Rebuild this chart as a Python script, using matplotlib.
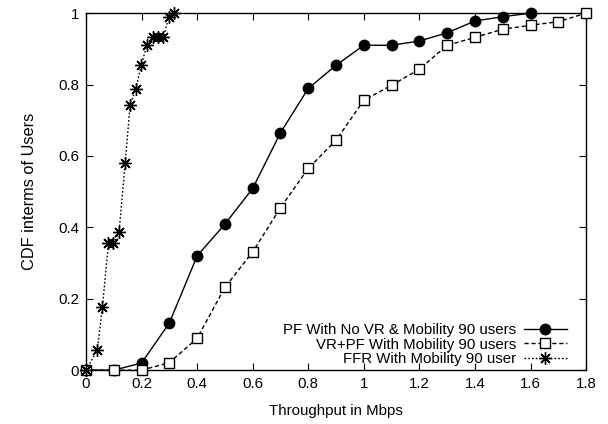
import matplotlib
matplotlib.use("Agg")
import matplotlib.pyplot as plt

plt.rcParams['font.family'] = ['Liberation Sans', 'DejaVu Sans']

pf_x = [0, 0.1, 0.2, 0.3, 0.4, 0.5, 0.6, 0.7, 0.8, 0.9, 1.0, 1.1, 1.2, 1.3, 1.4, 1.5, 1.6]
pf_y = [0, 0, 0.020, 0.132, 0.320, 0.409, 0.509, 0.665, 0.789, 0.854, 0.910, 0.910, 0.922, 0.945, 0.978, 0.990, 1.0]

vr_x = [0, 0.1, 0.2, 0.3, 0.4, 0.5, 0.6, 0.7, 0.8, 0.9, 1.0, 1.1, 1.2, 1.3, 1.4, 1.5, 1.6, 1.7, 1.8]
vr_y = [0, 0, 0, 0.021, 0.089, 0.232, 0.331, 0.455, 0.565, 0.644, 0.756, 0.798, 0.843, 0.910, 0.932, 0.955, 0.966, 0.976, 1.0]

ffr_x = [0, 0.041, 0.059, 0.081, 0.099, 0.119, 0.141, 0.159, 0.179, 0.199, 0.219, 0.243, 0.261, 0.279, 0.298, 0.318]
ffr_y = [0, 0.056, 0.176, 0.355, 0.355, 0.387, 0.579, 0.744, 0.787, 0.854, 0.910, 0.932, 0.932, 0.932, 0.990, 1.0]

labels = ["PF With No VR & Mobility 90 users",
          "VR+PF With Mobility 90 users",
          "FFR With Mobility 90 user"]

xticks = [0, 0.2, 0.4, 0.6, 0.8, 1.0, 1.2, 1.4, 1.6, 1.8]
xticklabels = ["0", "0.2", "0.4", "0.6", "0.8", "1", "1.2", "1.4", "1.6", "1.8"]
yticks = [0, 0.2, 0.4, 0.6, 0.8, 1.0]
yticklabels = ["0", "0.2", "0.4", "0.6", "0.8", "1"]

FS = 10.8

fig = plt.figure(figsize=(6.08, 4.24), dpi=100)
ax = fig.add_axes([0.1414, 0.127, 0.8226, 0.842])

ax.plot(pf_x, pf_y, color='black', lw=1.0, ls='-', marker='o', ms=7.5,
        mfc='black', mec='black', label=labels[0], clip_on=False, zorder=3)
ax.plot(vr_x, vr_y, color='black', lw=1.0, ls=(0, (3, 2)), marker='s', ms=7,
        mfc='white', mec='black', mew=1.0, label=labels[1], clip_on=False, zorder=3)
ax.plot(ffr_x, ffr_y, color='black', lw=1.0, ls=(0, (1.2, 1.5)), marker=(8, 2, 0), ms=9,
        mec='black', mew=1.0, label=labels[2], clip_on=False, zorder=4)

ax.set_xlim(0, 1.8)
ax.set_ylim(0, 1)
ax.set_xticks(xticks)
ax.set_xticklabels(xticklabels)
ax.set_yticks(yticks)
ax.set_yticklabels(yticklabels)
ax.tick_params(direction='in', top=True, right=True, length=5, width=0.8,
               labelsize=FS, pad=5)
for s in ax.spines.values():
    s.set_linewidth(1.0)

ax.set_xlabel("Throughput in Mbps", fontsize=FS, labelpad=9)
ax.set_ylabel("CDF interms of Users", fontsize=11.8)
ax.yaxis.set_label_coords(-0.097, 0.5)

leg = ax.legend(loc='lower right', frameon=False, markerfirst=False, fontsize=FS,
                handlelength=2.9, handletextpad=0.5, labelspacing=0.02,
                borderpad=0, borderaxespad=0,
                bbox_to_anchor=((567 - 86) / 500, 0.012))

fig.savefig("out.png", dpi=100)
